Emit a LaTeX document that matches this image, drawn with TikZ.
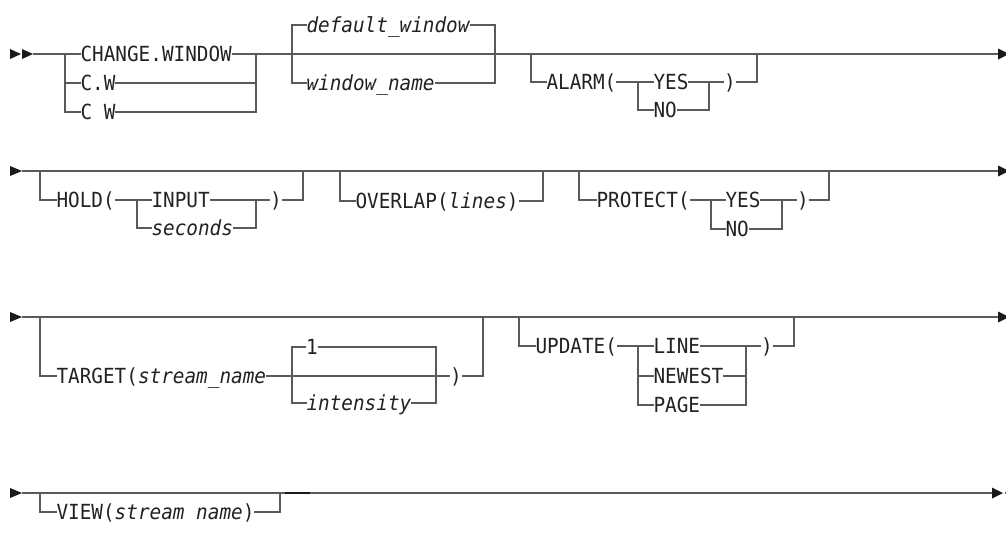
\documentclass[tikz,border=0pt]{standalone}
\usepackage{fontspec}
\setmainfont{DejaVu Sans Mono}[FakeStretch=0.93]
\definecolor{linec}{HTML}{5A5A5A}
\definecolor{textc}{HTML}{222222}
\definecolor{arrc}{HTML}{1A1A1A}
\begin{document}
\begin{tikzpicture}[x=0.75pt,y=-0.75pt,
  rr/.style={draw=linec, line width=1.1pt},
  kw/.style={inner sep=0pt, outer sep=0pt, anchor=west, text=textc,
     text height=11.4pt, text depth=0pt, font=\fontsize{15.6}{18}\selectfont},
  kwi/.style={kw, font=\fontsize{15.6}{18}\selectfont\itshape},
  ahead/.style={fill=arrc}]
\useasboundingbox (0,0) rectangle (1006,532);

% ---------------- Row 1 ----------------
\fill[ahead] (10,49) -- (21,54) -- (10,59) -- cycle;
\fill[ahead] (22,49) -- (33,54) -- (22,59) -- cycle;
\coordinate (s1) at (33,54);
\coordinate (e1) at (998,54);
\fill[ahead] (998,48.5) -- (1009,54) -- (998,59.5) -- cycle;

\node[kw] (cwA) at (80.5,54) {CHANGE.WINDOW};
\node[kw] (cwB) at (80.5,83) {C.W};
\node[kw] (cwC) at (80.5,112) {C W};
\coordinate (j1) at (65,54);
\coordinate (j2) at (256,54);
\draw[rr] (s1) -- (cwA.west);
\draw[rr] (j1) |- (cwB.west);
\draw[rr] (j1) |- (cwC.west);
\draw[rr] (cwB.east) -| (j2);
\draw[rr] (cwC.east) -| (j2);
\draw[rr] (cwA.east) -- (e1);

\node[kwi] (dw) at (306.5,25) {default\_window};
\node[kwi] (wn) at (306.5,83) {window\_name};
\coordinate (j3) at (292,54);
\coordinate (j4) at (495,54);
\draw[rr] (j3) |- (dw.west);
\draw[rr] (dw.east) -| (j4);
\draw[rr] (j3) |- (wn.west);
\draw[rr] (wn.east) -| (j4);

\node[kw] (al) at (546.5,82) {ALARM(};
\node[kw] (alY) at (653.5,82) {YES};
\node[kw] (alN) at (653.5,110) {NO};
\node[kw] (alR) at (724,82) {)};
\coordinate (j5) at (531,54);
\coordinate (j6) at (638,82);
\coordinate (j7) at (709,82);
\coordinate (j8) at (757,54);
\draw[rr] (j5) |- (al.west);
\draw[rr] (al.east) -- (alY.west);
\draw[rr] (j6) |- (alN.west);
\draw[rr] (alY.east) -- (alR.west);
\draw[rr] (alN.east) -| (j7);
\draw[rr] (alR.east) -| (j8);

% ---------------- Row 2 ----------------
\fill[ahead] (10,166) -- (22,171) -- (10,176) -- cycle;
\coordinate (s2) at (22,171);
\coordinate (e2) at (998,171);
\fill[ahead] (998,165.5) -- (1009,171) -- (998,176.5) -- cycle;
\draw[rr] (s2) -- (e2);

\node[kw] (ho) at (56.5,200) {HOLD(};
\node[kw] (hoI) at (151.5,200) {INPUT};
\node[kwi] (hoS) at (151.5,228) {seconds};
\node[kw] (hoR) at (270,200) {)};
\coordinate (h1) at (40,171);
\coordinate (h2) at (137,200);
\coordinate (h3) at (256,200);
\coordinate (h4) at (303,171);
\draw[rr] (h1) |- (ho.west);
\draw[rr] (ho.east) -- (hoI.west);
\draw[rr] (h2) |- (hoS.west);
\draw[rr] (hoI.east) -- (hoR.west);
\draw[rr] (hoS.east) -| (h3);
\draw[rr] (hoR.east) -| (h4);

\node[kw] (ov) at (355.5,201) {OVERLAP(\textit{lines})};
\coordinate (o1) at (340,171);
\coordinate (o2) at (543,171);
\draw[rr] (o1) |- (ov.west);
\draw[rr] (ov.east) -| (o2);

\node[kw] (pr) at (596.5,200) {PROTECT(};
\node[kw] (prY) at (725.5,200) {YES};
\node[kw] (prN) at (725.5,229) {NO};
\node[kw] (prR) at (797,200) {)};
\coordinate (p1) at (579,171);
\coordinate (p2) at (711,200);
\coordinate (p3) at (782,200);
\coordinate (p4) at (829,171);
\draw[rr] (p1) |- (pr.west);
\draw[rr] (pr.east) -- (prY.west);
\draw[rr] (p2) |- (prN.west);
\draw[rr] (prY.east) -- (prR.west);
\draw[rr] (prN.east) -| (p3);
\draw[rr] (prR.east) -| (p4);

% ---------------- Row 3 ----------------
\fill[ahead] (10,312) -- (22,317) -- (10,322) -- cycle;
\coordinate (s3) at (22,317);
\coordinate (e3) at (998,317);
\fill[ahead] (998,311.5) -- (1009,317) -- (998,322.5) -- cycle;
\draw[rr] (s3) -- (e3);

\node[kw] (tg) at (56.5,376) {TARGET(\textit{stream\_name}};
\node[kw] (tg1) at (306,347) {1};
\node[kwi] (tgI) at (306.5,403) {intensity};
\node[kw] (tgR) at (450,376) {)};
\coordinate (t1) at (40,317);
\coordinate (t2) at (292,376);
\coordinate (t3) at (436,376);
\coordinate (t4) at (483,317);
\draw[rr] (t1) |- (tg.west);
\draw[rr] (tg.east) -- (tgR.west);
\draw[rr] (t2) |- (tg1.west);
\draw[rr] (t2) |- (tgI.west);
\draw[rr] (tg1.east) -| (t3);
\draw[rr] (tgI.east) -| (t3);
\draw[rr] (tgR.east) -| (t4);

\node[kw] (up) at (535.5,346) {UPDATE(};
\node[kw] (upL) at (653.5,346) {LINE};
\node[kw] (upN) at (653.5,376) {NEWEST};
\node[kw] (upP) at (653.5,405) {PAGE};
\node[kw] (upR) at (761,346) {)};
\coordinate (u1) at (519,317);
\coordinate (u2) at (638,346);
\coordinate (u3) at (746,346);
\coordinate (u4) at (794,317);
\draw[rr] (u1) |- (up.west);
\draw[rr] (up.east) -- (upL.west);
\draw[rr] (u2) |- (upN.west);
\draw[rr] (u2) |- (upP.west);
\draw[rr] (upL.east) -- (upR.west);
\draw[rr] (upN.east) -| (u3);
\draw[rr] (upP.east) -| (u3);
\draw[rr] (upR.east) -| (u4);

% ---------------- Row 4 ----------------
\fill[ahead] (10,488) -- (22,493) -- (10,498) -- cycle;
\coordinate (s4) at (22,493);
\coordinate (e4) at (992,493);
\fill[ahead] (992,487.5) -- (1003,493) -- (992,498.5) -- cycle;
\fill[ahead] (1004.5,493) -- (1015,487.5) -- (1015,498.5) -- cycle;
\draw[rr] (s4) -- (e4);

\node[kw] (vw) at (56.5,512) {VIEW(\textit{stream name})};
\coordinate (v1) at (40,493);
\coordinate (v2) at (280,493);
\draw[rr] (v1) |- (vw.west);
\draw[rr] (vw.east) -| (v2);
\coordinate (d1) at (285,493);
\coordinate (d2) at (310,493);
\draw[line width=1.4pt, arrc] (d1) -- (d2);
\end{tikzpicture}
\end{document}
